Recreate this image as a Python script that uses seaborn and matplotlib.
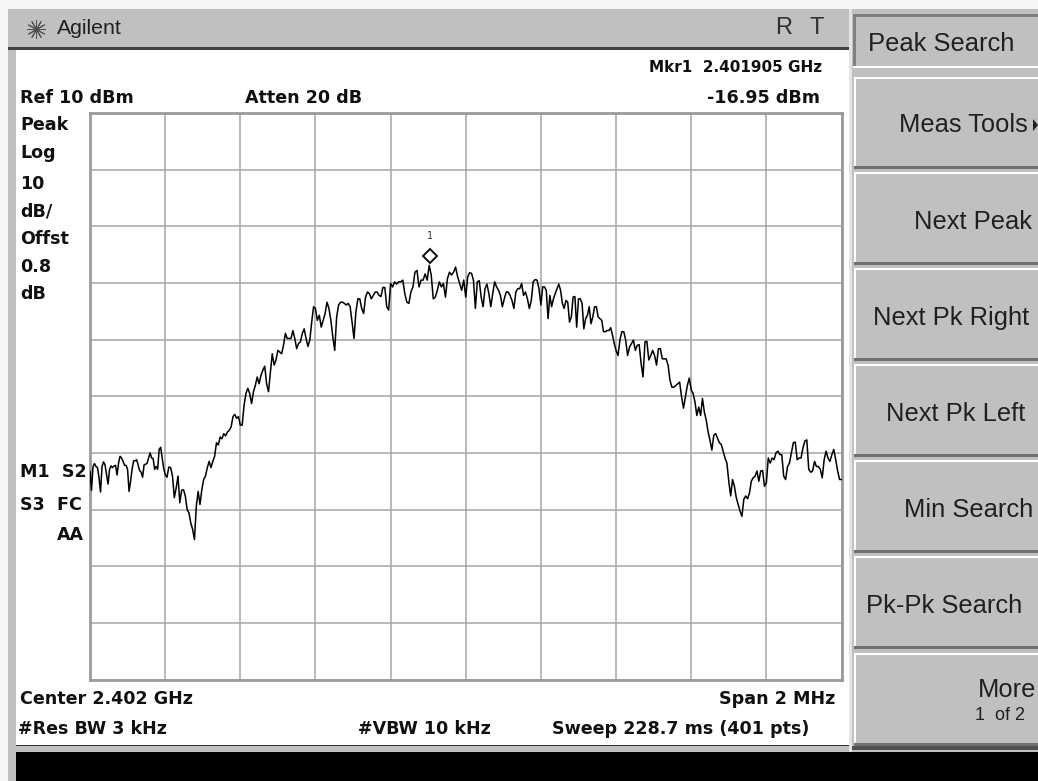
import numpy as np
import pandas as pd
import matplotlib
matplotlib.use("Agg")
import matplotlib.pyplot as plt
from matplotlib.patches import Rectangle
from matplotlib.transforms import offset_copy
import seaborn as sns

div_01 = [-53.2,-56.6,-52.4,-51.9,-52.4,-52.6,-54.4,-56.9,-52.4,-51.6,-52.1,-53.8,-55.5,-52.9,-52.3,-52.6,-52.3,-52.2,-53.9,-51.8,-50.6,-50.9,-51.5,-52.2,-52.2,-52.9,-56.8,-55.0,-52.9,-51.4,-51.4,-51.2,-52.1,-53.1,-53.4,-54.3,-52.1,-52.0,-51.8,-50.9,-50.0,-50.9,-51.0,-52.9,-52.4,-52.9,-49.4,-49.0,-50.9,-52.7]
div_02 = [-53.8,-54.3,-52.5,-52.6,-54.1,-57.9,-56.2,-54.1,-58.8,-56.6,-56.5,-57.6,-60.0,-60.6,-62.4,-63.5,-65.3,-59.4,-56.8,-59.1,-56.5,-54.7,-54.1,-52.6,-51.5,-52.6,-51.5,-50.6,-48.2,-48.6,-47.2,-47.5,-46.6,-47.0,-46.3,-46.0,-45.4,-43.6,-43.2,-43.9,-43.6]
div_03 = [-45.1,-45.1,-41.6,-39.5,-38.6,-39.5,-41.3,-39.2,-38.1,-36.6,-37.8,-36.3,-35.4,-34.7,-37.8,-39.2,-35.9,-32.5,-34.5,-33.6,-31.9,-32.2,-32.5,-31.0,-28.9,-29.8,-29.8,-29.8,-28.4,-29.8,-31.6,-30.7,-30.4,-28.9,-28.1,-29.8,-31.2,-30.1,-26.9,-24.2]
div_04 = [-24.5,-26.6,-25.7,-27.8,-26.6,-25.4,-23.4,-24.5,-26.6,-29.5,-31.9,-26.0,-23.9,-23.4,-23.4,-23.6,-23.9,-23.6,-24.2,-26.9,-29.8,-25.1,-22.8,-22.8,-24.5,-25.4,-22.5,-21.6,-21.9,-22.8,-22.2,-21.6,-21.6,-22.2,-22.4,-20.8,-20.8,-24.2,-24.8]
div_05 = [-20.1,-20.7,-19.8,-20.2,-19.8,-19.8,-19.5,-21.9,-23.4,-23.6,-21.6,-20.7,-18.1,-17.8,-20.7,-19.5,-19.5,-18.4,-19.5,-16.9,-18.6,-22.8,-22.5,-21.3,-19.8,-20.7,-20.1,-22.5,-19.2,-18.1,-18.6,-18.1,-17.2,-18.9,-20.1,-21.3,-19.5]
div_06 = [-22.5,-18.9,-18.2,-18.3,-19.5,-24.5,-19.8,-19.6,-22.5,-24.2,-21.0,-20.2,-21.9,-24.2,-21.9,-19.8,-20.7,-21.3,-22.2,-24.2,-22.8,-21.6,-21.6,-22.2,-23.1,-24.5,-21.6,-21.0,-21.0,-20.1,-22.2,-21.6,-22.8,-24.5,-23.1,-19.8,-19.4,-19.5,-21.0]
div_07 = [-23.9,-20.7,-20.7,-21.3,-26.3,-22.2,-24.2,-22.8,-21.9,-21.0,-20.2,-21.3,-23.6,-24.5,-23.1,-23.4,-26.9,-26.0,-22.5,-22.4,-27.8,-22.8,-22.8,-23.6,-28.1,-26.3,-25.7,-24.2,-27.2,-26.0,-24.2,-24.2,-26.0,-26.3,-26.6,-28.6,-28.6,-28.4,-28.4,-27.9,-29.2,-30.7]
div_08 = [-31.9,-32.8,-30.1,-28.6,-28.6,-30.1,-32.8,-31.3,-30.7,-30.1,-31.9,-31.0,-30.9,-34.2,-36.6,-30.4,-30.3,-33.6,-32.8,-31.9,-32.8,-34.5,-31.6,-31.6,-33.4,-33.4,-33.4,-34.5,-37.2,-38.4,-38.4,-38.1,-37.8,-37.5,-40.1,-42.1,-40.1,-38.1,-36.8]
div_09 = [-38.9,-39.5,-41.0,-43.4,-41.9,-43.4,-40.4,-42.8,-44.2,-46.3,-47.8,-49.5,-46.9,-46.6,-47.4,-48.2,-48.5,-49.7,-50.9,-51.8,-55.0,-57.6,-54.7,-55.9,-57.9,-59.1,-60.3,-61.2,-58.2,-57.6,-58.1,-57.1,-55.0,-54.4,-54.1,-53.2,-55.0,-53.2,-53.1,-55.9]
div_10 = [-55.3,-50.9,-51.8,-50.9,-51.2,-50.0,-49.7,-50.3,-50.3,-54.1,-54.7,-52.4,-51.8,-50.0,-48.2,-48.1,-51.2,-50.9,-50.9,-49.1,-47.9,-47.7,-52.9,-53.4,-53.2,-51.5,-52.4,-52.4,-52.9,-54.4,-51.2,-49.7,-50.9,-51.5,-50.3,-49.4,-51.2,-53.2,-54.7]
trace_divs = [div_01, div_02, div_03, div_04, div_05, div_06, div_07, div_08, div_09, div_10]

start_ghz, stop_ghz = 2.401, 2.403
ref_dbm, db_per_div = 10, 10
marker_ghz, marker_dbm = 2.401905, -16.95

softkeys_left = [("Peak Search", 868, 44), ("Next Pk Right", 873, 318), ("Next Pk Left", 886, 414), ("Pk-Pk Search", 866, 606)]
softkeys_right = [("Meas Tools", 1028, 125), ("Next Peak", 1032, 222), ("Min Search", 1033, 510), ("More", 1036, 690)]
softkey_spans = [(77, 166), (172, 262), (268, 358), (364, 454), (460, 550), (556, 646), (653, 743)]

status_left = [("Ref 10 dBm", 20, 98), ("Atten 20 dB", 245, 98), ("Peak", 20, 125), ("Log", 20, 153), ("10", 20, 184),
               ("dB/", 20, 212), ("Offst", 20, 239), ("0.8", 20, 267), ("dB", 20, 294), ("M1  S2", 20, 472),
               ("S3  FC", 20, 505), ("AA", 57, 535), ("Center 2.402 GHz", 20, 699), ("#Res BW 3 kHz", 18, 729),
               ("#VBW 10 kHz", 358, 729), ("Sweep 228.7 ms (401 pts)", 552, 729)]
status_right = [("-16.95 dBm", 820, 98), ("Span 2 MHz", 835, 699)]

W, H = 1038, 781
sns.set_style("white")
BOLD = "DejaVu Sans"
SANS = "Liberation Sans"

fig = plt.figure(figsize=(W / 100, H / 100), dpi=100, facecolor="#f5f5f5")
chrome = fig.add_axes([0, 0, 1, 1], zorder=0)
chrome.set_xlim(0, W)
chrome.set_ylim(H, 0)
chrome.axis("off")

def box(x0, y0, x1, y1, color):
    chrome.add_patch(Rectangle((x0, y0), x1 - x0, y1 - y0, facecolor=color, edgecolor="none"))

GREY = "#c0c0c0"
box(8, 9, 850, 47, GREY)          # title bar
box(8, 47, 850, 50, "#404040")
box(8, 50, 16, H, GREY)           # left strip
box(16, 50, 850, 745, "white")    # screen
box(16, 745, 850, 746, "#303030")
box(16, 746, 850, 752, GREY)
box(16, 752, W, H, "black")       # status line
box(850, 9, W, 752, GREY)         # softkey column
box(849, 9, 852, 752, "#e4e4e4")
box(852, 746, W, 750, "#505050")

# raised softkeys: white top/left edge, dark bottom edge
for y0, y1 in softkey_spans:
    box(854, y0, W, y1 + 3, "#707070")
    box(854, y0, W, y1, "white")
    box(856, y0 + 2, W, y1, GREY)
# the selected softkey is sunken: dark top/left edge, white bottom edge
box(853, 14, W, 68, "white")
box(853, 14, W, 66, "#808080")
box(856, 17, W, 66, GREY)

# little softkey arrow at the edge of "Meas Tools"
chrome.fill([1033, 1038, 1033], [119, 125, 131], color="#202020", lw=0)

chrome.text(57, 29, "Agilent", fontsize=15.3, family=SANS, color="#202020", va="center")
chrome.scatter([36], [29], marker=(12, 2, 0), s=170, color="#505050", lw=0.7)
chrome.text(784, 28, "R", fontsize=17, family=SANS, color="#303030", va="center", ha="center")
chrome.text(817, 28, "T", fontsize=17, family=SANS, color="#303030", va="center", ha="center")

chrome.text(822, 67, "Mkr1  2.401905 GHz", fontsize=11, family=BOLD, weight="bold", color="#101010", va="center", ha="right")
for label, x, y in status_left:
    chrome.text(x, y, label, fontsize=12.6, family=BOLD, weight="bold", color="#101010", va="center", ha="left")
for label, x, y in status_right:
    chrome.text(x, y, label, fontsize=12.6, family=BOLD, weight="bold", color="#101010", va="center", ha="right")
for label, x, y in softkeys_left:
    chrome.text(x, y, label, fontsize=18.4, family=SANS, color="#202020", va="center", ha="left")
for label, x, y in softkeys_right:
    chrome.text(x, y, label, fontsize=18.4, family=SANS, color="#202020", va="center", ha="right")
chrome.text(975, 716, "1  of 2", fontsize=13, family=SANS, color="#202020", va="center", ha="left")

# Trace axes: the graticule spans 10 x 10 divisions
ax = fig.add_axes([90 / W, 1 - 679.5 / H, 751.5 / W, 566.5 / H], zorder=1, facecolor="white")
step = (stop_ghz - start_ghz) / len(trace_divs)
freq, level = [], []
for i, values in enumerate(trace_divs):
    freq.extend(start_ghz + step * (i + np.arange(len(values)) / len(values)))
    level.extend(values)
freq.append(stop_ghz)
level.append(level[-1])
df = pd.DataFrame({"freq": freq, "level": level})

sns.lineplot(data=df, x="freq", y="level", ax=ax, color="#000000", lw=1.1, errorbar=None, estimator=None, zorder=3)

ax.set_xlim(start_ghz, stop_ghz)
ax.set_ylim(ref_dbm - 10 * db_per_div, ref_dbm)
ax.set_xticks(np.linspace(start_ghz, stop_ghz, 11))
ax.set_yticks(np.arange(ref_dbm - 10 * db_per_div, ref_dbm + 1, db_per_div))
ax.grid(True, color="#a6a6a6", lw=1.1, zorder=1)
ax.set_axisbelow(True)
ax.tick_params(left=False, bottom=False, labelleft=False, labelbottom=False)
ax.set_xlabel("")
ax.set_ylabel("")
for s in ax.spines.values():
    s.set_color("#9a9a9a")
    s.set_linewidth(2.0)

# Marker 1: diamond sits just above the trace point, with a small number above it
diamond_tf = offset_copy(ax.transData, fig=fig, x=0, y=10, units="dots")
ax.plot([marker_ghz], [marker_dbm], marker="D", ms=7.5, mfc="white", mec="#0c0c0c", mew=1.4, transform=diamond_tf, zorder=5, clip_on=False)
ax.annotate("1", (marker_ghz, marker_dbm), xytext=(0, 30), textcoords="offset pixels", ha="center", va="center",
            fontsize=7, family="DejaVu Sans Mono", color="#303030")

fig.savefig("out.png", dpi=100, facecolor=fig.get_facecolor())
